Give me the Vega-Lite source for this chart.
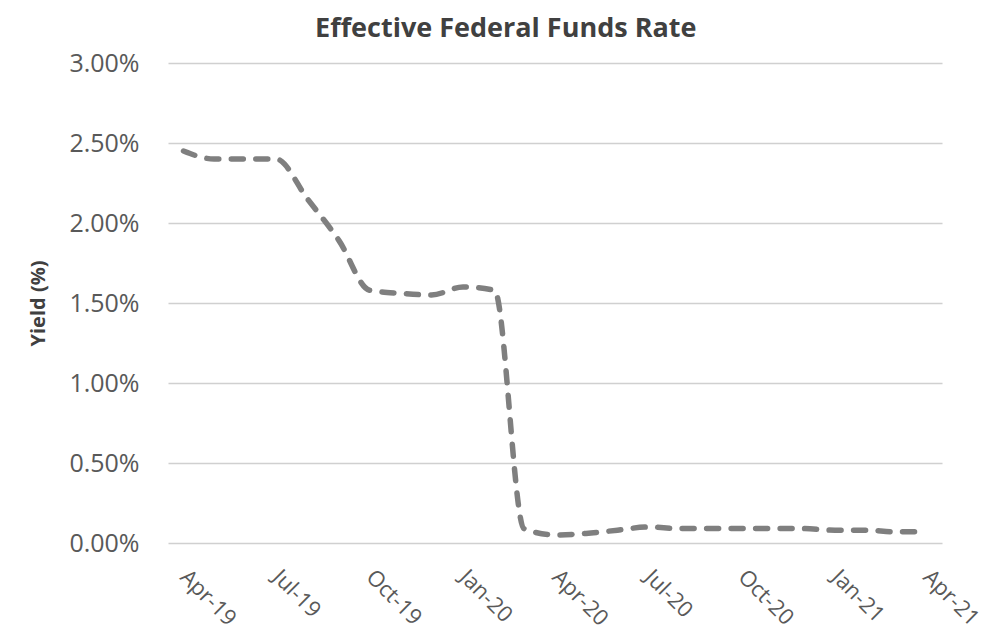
{
  "$schema": "https://vega.github.io/schema/vega-lite/v6.json",
  "autosize": "none",
  "width": 774,
  "height": 480,
  "padding": {"left": 168, "top": 63, "right": 63, "bottom": 91},
  "background": "white",
  "title": {
    "text": "Effective Federal Funds Rate",
    "anchor": "middle",
    "frame": "bounds",
    "font": "Open Sans",
    "fontSize": 27,
    "fontWeight": "bold",
    "color": "#404040",
    "offset": 8
  },
  "data": {
    "values": [
      {"date": "2019-04-01T00:00:00", "rate": 0.0245},
      {"date": "2019-05-01T00:00:00", "rate": 0.0240},
      {"date": "2019-06-01T00:00:00", "rate": 0.0240},
      {"date": "2019-07-01T00:00:00", "rate": 0.0240},
      {"date": "2019-08-01T00:00:00", "rate": 0.0215},
      {"date": "2019-09-01T00:00:00", "rate": 0.0189},
      {"date": "2019-10-01T00:00:00", "rate": 0.0158},
      {"date": "2019-11-01T00:00:00", "rate": 0.0156},
      {"date": "2019-12-01T00:00:00", "rate": 0.0155},
      {"date": "2020-01-01T00:00:00", "rate": 0.0160},
      {"date": "2020-02-01T00:00:00", "rate": 0.0158},
      {"date": "2020-03-01T00:00:00", "rate": 0.0009},
      {"date": "2020-04-01T00:00:00", "rate": 0.0005},
      {"date": "2020-05-01T00:00:00", "rate": 0.0006},
      {"date": "2020-06-01T00:00:00", "rate": 0.0008},
      {"date": "2020-07-01T00:00:00", "rate": 0.0010},
      {"date": "2020-08-01T00:00:00", "rate": 0.0009},
      {"date": "2020-09-01T00:00:00", "rate": 0.0009},
      {"date": "2020-10-01T00:00:00", "rate": 0.0009},
      {"date": "2020-11-01T00:00:00", "rate": 0.0009},
      {"date": "2020-12-01T00:00:00", "rate": 0.0009},
      {"date": "2021-01-01T00:00:00", "rate": 0.0008},
      {"date": "2021-02-01T00:00:00", "rate": 0.0008},
      {"date": "2021-03-01T00:00:00", "rate": 0.0007},
      {"date": "2021-04-01T00:00:00", "rate": 0.0007}
    ]
  },
  "mark": {
    "type": "line",
    "color": "#7f7f7f",
    "strokeWidth": 5.5,
    "strokeDash": [12, 12.5],
    "strokeCap": "round",
    "strokeJoin": "round",
    "interpolate": "monotone"
  },
  "encoding": {
    "x": {
      "field": "date",
      "type": "temporal",
      "scale": {"domain": ["2019-03-16T18:00:00", "2021-04-16T06:00:00"], "nice": false},
      "axis": {
        "title": null,
        "values": [
          {"year": 2019, "month": 4, "date": 1},
          {"year": 2019, "month": 7, "date": 1},
          {"year": 2019, "month": 10, "date": 1},
          {"year": 2020, "month": 1, "date": 1},
          {"year": 2020, "month": 4, "date": 1},
          {"year": 2020, "month": 7, "date": 1},
          {"year": 2020, "month": 10, "date": 1},
          {"year": 2021, "month": 1, "date": 1},
          {"year": 2021, "month": 4, "date": 1}
        ],
        "format": "%b-%y",
        "labelAngle": 45,
        "labelAlign": "left",
        "labelBaseline": "top",
        "labelFont": "Open Sans",
        "labelFontSize": 22,
        "labelColor": "#595959",
        "labelPadding": 23,
        "labelOffset": 7,
        "labelOverlap": false,
        "labelFlush": false,
        "grid": false,
        "domain": false,
        "ticks": false,
        "tickSize": 0
      }
    },
    "y": {
      "field": "rate",
      "type": "quantitative",
      "scale": {"domain": [0, 0.03], "nice": false, "zero": true},
      "axis": {
        "title": "Yield (%)",
        "titleFont": "Open Sans",
        "titleFontSize": 20,
        "titleFontWeight": "bold",
        "titleColor": "#404040",
        "titlePadding": 20,
        "values": [0, 0.005, 0.01, 0.015, 0.02, 0.025, 0.03],
        "format": ".2%",
        "labelFont": "Open Sans",
        "labelFontSize": 25,
        "labelColor": "#595959",
        "labelPadding": 29,
        "grid": true,
        "gridColor": "#d0d0d0",
        "gridWidth": 1.5,
        "domain": false,
        "ticks": false,
        "tickSize": 0
      }
    }
  },
  "config": {
    "view": {"stroke": null}
  }
}
